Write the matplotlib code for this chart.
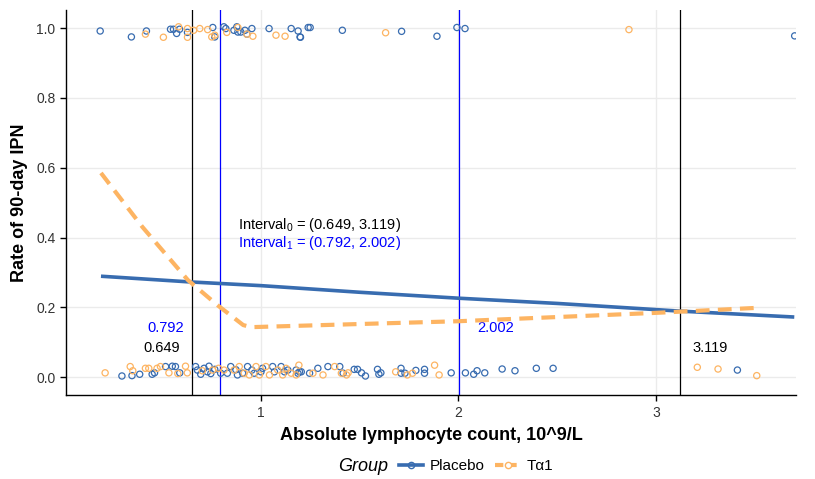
import numpy as np
import matplotlib
matplotlib.use('Agg')
import matplotlib.pyplot as plt
from matplotlib.lines import Line2D

plt.rcParams['font.family'] = ['Liberation Sans', 'DejaVu Sans']
plt.rcParams['mathtext.fontset'] = 'custom'
plt.rcParams['mathtext.rm'] = 'Liberation Sans'
plt.rcParams['mathtext.it'] = 'Liberation Sans:italic'
plt.rcParams['mathtext.bf'] = 'Liberation Sans:bold'

# ---- jittered observations (outcome 1 = top band, 0 = bottom band)
placebo_x = [0.186, 0.344, 0.420, 0.542, 0.557, 0.573, 0.588, 0.628, 0.756, 0.766,
             0.812, 0.822, 0.863, 0.878, 0.883, 0.898, 0.919, 0.929, 0.954, 1.041,
             1.153, 1.188, 1.198, 1.200, 1.239, 1.249, 1.412, 1.712, 1.891, 1.992,
             2.033, 3.702,
             0.296, 0.347, 0.386, 0.449, 0.461, 0.517, 0.551, 0.567, 0.589, 0.669,
             0.678, 0.695, 0.712, 0.729, 0.737, 0.746, 0.766,
             0.796, 0.830, 0.847, 0.873, 0.881, 0.907, 0.932, 0.954, 0.966, 1.000,
             1.008, 1.059, 1.068, 1.102, 1.119, 1.136, 1.178, 1.187, 1.195, 1.204,
             1.246, 1.288, 1.339, 1.399, 1.416,
             1.472, 1.489, 1.509, 1.529, 1.590, 1.597, 1.607, 1.709, 1.709, 1.729,
             1.784, 1.828, 1.828, 1.963, 2.035,
             2.077, 2.094, 2.133, 2.221, 2.286, 2.394, 2.479, 3.412]
placebo_y = [0.992, 0.975, 0.992, 0.997, 0.997, 0.985, 0.997, 0.988, 1.002, 0.975,
             1.004, 0.999, 0.994, 1.004, 0.989, 0.989, 0.994, 0.983, 0.999, 0.999,
             0.999, 0.992, 0.975, 0.974, 1.002, 1.002, 0.994, 0.991, 0.977, 1.002,
             0.999, 0.978,
             0.003, 0.004, 0.008, 0.008, 0.012, 0.030, 0.031, 0.030, 0.012, 0.030,
             0.020, 0.008, 0.025, 0.015, 0.031, 0.010, 0.022,
             0.011, 0.011, 0.030, 0.021, 0.006, 0.011, 0.030, 0.020, 0.011, 0.015,
             0.025, 0.030, 0.015, 0.030, 0.015, 0.020, 0.020, 0.011, 0.015, 0.015,
             0.011, 0.025, 0.030, 0.030, 0.011,
             0.022, 0.022, 0.012, 0.003, 0.022, 0.008, 0.012, 0.025, 0.011, 0.011,
             0.019, 0.022, 0.011, 0.012, 0.012,
             0.008, 0.018, 0.012, 0.023, 0.018, 0.025, 0.025, 0.020]

ta1_x = [0.415, 0.506, 0.583, 0.628, 0.628, 0.659, 0.690, 0.730, 0.751, 0.766,
         0.827, 0.883, 0.929, 0.959, 1.076, 1.122, 1.631, 2.863,
         0.211, 0.338, 0.351, 0.415, 0.432, 0.474, 0.491, 0.534, 0.579, 0.618,
         0.627, 0.703, 0.755,
         0.785, 0.813, 0.864, 0.890, 0.915, 0.941, 0.975, 0.992, 1.025, 1.043,
         1.085, 1.110, 1.127, 1.153, 1.178, 1.192, 1.263, 1.314, 1.373, 1.407,
         1.433, 1.441, 1.682, 1.741, 1.767, 1.879, 1.902,
         3.209, 3.314, 3.510]
ta1_y = [0.983, 0.974, 1.004, 0.999, 0.974, 0.994, 0.999, 0.996, 0.975, 0.980,
         0.988, 1.002, 0.983, 0.977, 0.980, 0.977, 0.987, 0.996,
         0.012, 0.030, 0.018, 0.025, 0.025, 0.025, 0.030, 0.012, 0.010, 0.031,
         0.012, 0.018, 0.020,
         0.025, 0.020, 0.020, 0.030, 0.011, 0.006, 0.030, 0.006, 0.030, 0.006,
         0.020, 0.006, 0.025, 0.011, 0.006, 0.034, 0.011, 0.006, 0.030, 0.011,
         0.006, 0.012, 0.015, 0.006, 0.011, 0.034, 0.006,
         0.028, 0.023, 0.004]

# ---- fitted curves
placebo_fit_x = [0.19, 0.63, 1.0, 1.5, 2.0, 2.5, 3.12, 3.70]
placebo_fit_y = [0.289, 0.273, 0.262, 0.243, 0.226, 0.211, 0.189, 0.172]
ta1_fit_x = [0.19, 0.40, 0.63, 0.78, 0.91, 0.95, 1.5, 2.0, 2.5, 3.0, 3.5]
ta1_fit_y = [0.585, 0.430, 0.278, 0.206, 0.149, 0.143, 0.152, 0.160, 0.172, 0.184, 0.198]

# ---- cut-off intervals
interval0 = (0.649, 3.119)
interval1 = (0.792, 2.002)

blue = '#386CB0'
orange = '#FDB462'

fig = plt.figure(figsize=(8.15, 4.79), dpi=100)
ax = fig.add_axes([0.081, 0.175, 0.896, 0.804])

ax.scatter(placebo_x, placebo_y, s=20, facecolors='none', edgecolors=blue,
           linewidths=0.9, zorder=3)
ax.scatter(ta1_x, ta1_y, s=20, facecolors='none', edgecolors=orange,
           linewidths=0.9, zorder=3)

ax.plot(placebo_fit_x, placebo_fit_y, color=blue, linewidth=2.6, zorder=4,
        solid_capstyle='butt')
ax.plot(ta1_fit_x, ta1_fit_y, color=orange, linewidth=3.0, zorder=4,
        linestyle=(0, (3.3, 2.0)))

for v in interval0:
    ax.axvline(v, color='black', linewidth=0.9, zorder=2)
for v in interval1:
    ax.axvline(v, color='#0000FF', linewidth=0.9, zorder=2)

ax.text(0.517, 0.140, '0.792', color='#0000FF', fontsize=10.5, ha='center', va='center')
ax.text(0.496, 0.083, '0.649', color='black', fontsize=10.5, ha='center', va='center')
ax.text(2.186, 0.140, '2.002', color='#0000FF', fontsize=10.5, ha='center', va='center')
ax.text(3.275, 0.083, '3.119', color='black', fontsize=10.5, ha='center', va='center')

ax.text(0.883, 0.437, r'Interval$_0$ = (0.649, 3.119)', color='black',
        fontsize=10.5, ha='left', va='center')
ax.text(0.883, 0.385, r'Interval$_1$ = (0.792, 2.002)', color='#0000FF',
        fontsize=10.5, ha='left', va='center')

ax.set_xlim(0.013, 3.71)
ax.set_ylim(-0.052, 1.052)
ax.set_xticks([1, 2, 3])
ax.set_yticks([0.0, 0.2, 0.4, 0.6, 0.8, 1.0])
ax.set_yticklabels(['0.0', '0.2', '0.4', '0.6', '0.8', '1.0'])
ax.grid(True, color='#EBEBEB', linewidth=1.0, zorder=0)
ax.set_axisbelow(True)
for side in ['top', 'right']:
    ax.spines[side].set_visible(False)
for side in ['left', 'bottom']:
    ax.spines[side].set_linewidth(1.0)
ax.tick_params(axis='both', length=4, width=1.0, labelsize=10, colors='black',
               labelcolor='#333333')

ax.set_xlabel('Absolute lymphocyte count, 10^9/L', fontsize=13, fontweight='bold',
              labelpad=5)
ax.set_ylabel('Rate of 90-day IPN', fontsize=13, fontweight='bold', labelpad=6)

fig.text(0.445, 0.027, 'Group', fontsize=13, style='italic', ha='center', va='center')
handles = [
    Line2D([], [], color=blue, linewidth=2.6, marker='o', markersize=4.5,
           markerfacecolor='none', markeredgecolor=blue),
    Line2D([], [], color=orange, linewidth=3.0, linestyle=(0, (2.0, 1.2)), marker='o',
           markersize=4.5, markerfacecolor='white', markeredgecolor=orange),
]
fig.legend(handles, ['Placebo', 'Tα1'], loc='center', bbox_to_anchor=(0.584, 0.027),
           ncol=2, frameon=False, fontsize=11, handlelength=1.6, handletextpad=0.45,
           columnspacing=0.7)

fig.savefig('out.png', dpi=100)
